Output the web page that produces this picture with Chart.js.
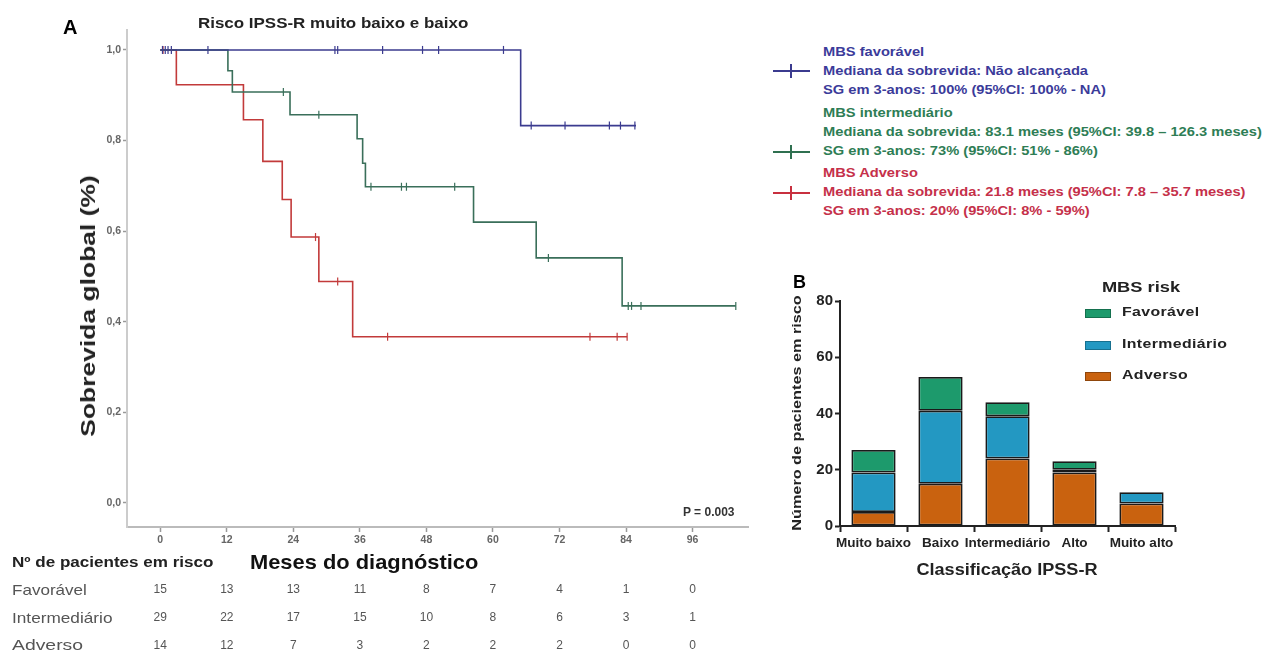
<!DOCTYPE html>
<html>
<head>
<meta charset="utf-8">
<script src="https://cdn.jsdelivr.net/npm/chart.js@4"></script>
<style>
  body { margin: 0; background: #fff; font-family: "Liberation Sans", Arial, sans-serif; }
  #wrap { position: relative; width: 1263px; height: 657px; overflow: hidden; }
  canvas { position: absolute; }
  .t { position: absolute; white-space: nowrap; }
  .left { transform-origin: left center; }
  .leg { transform-origin: left top; }
  .leg div { height: 19px; line-height: 19px; }
  .mk { position: absolute; width: 37px; height: 2px; }
  .mk:after { content: ""; position: absolute; left: 17px; top: -6px; width: 2px; height: 14px; background: inherit; }
</style>
</head>
<body>
<div id="wrap">
  <canvas id="km" width="760" height="657" style="left:0;top:0"></canvas>
  <canvas id="bars" width="420" height="300" style="left:780px;top:280px"></canvas>

  <div class="t" style="left:63px;top:16px;font:bold 20px 'Liberation Sans';">A</div>
  <div class="t left" data-w="270" style="left:198px;top:14px;font:bold 15px 'Liberation Sans';color:#222;">Risco IPSS-R muito baixo e baixo</div>
  <div class="t" data-w="262" data-mode="rot" style="left:88px;top:306px;font:bold 21px 'Liberation Sans';color:#222;">Sobrevida global (%)</div>
  <div class="t" style="left:683px;top:505px;font:bold 12px 'Liberation Sans';color:#333;">P = 0.003</div>
  <div class="t left" data-w="228" style="left:250px;top:550px;font:bold 21px 'Liberation Sans';color:#111;">Meses do diagnóstico</div>
  <div class="t left" data-w="201" style="left:12px;top:554px;font:bold 14.5px 'Liberation Sans';color:#222;">Nº de pacientes em risco</div>
  <div class="t left" data-w="75" style="left:12px;top:581px;font:15px 'Liberation Sans';color:#555;">Favorável</div>
  <div class="t left" data-w="101" style="left:12px;top:609px;font:15px 'Liberation Sans';color:#555;">Intermediário</div>
  <div class="t left" data-w="71" style="left:12px;top:636px;font:15px 'Liberation Sans';color:#555;">Adverso</div>

  <div class="mk" style="left:773px;top:70px;background:#3b3b8f;"></div>
  <div class="mk" style="left:773px;top:151px;background:#2f7050;"></div>
  <div class="mk" style="left:773px;top:192px;background:#c8303f;"></div>
  <div class="t leg" style="left:823px;top:43px;font:bold 12.5px 'Liberation Sans';color:#3b3b9a;">
    <div>MBS favorável</div><div>Mediana da sobrevida: Não alcançada</div><div>SG em 3-anos: 100% (95%CI: 100% - NA)</div>
  </div>
  <div class="t leg" id="leg2" style="left:823px;top:104px;font:bold 12.5px 'Liberation Sans';color:#2e7d55;">
    <div>MBS intermediário</div><div>Mediana da sobrevida: 83.1 meses (95%CI: 39.8 – 126.3 meses)</div><div>SG em 3-anos: 73% (95%CI: 51% - 86%)</div>
  </div>
  <div class="t leg" style="left:823px;top:164px;font:bold 12.5px 'Liberation Sans';color:#c5304a;">
    <div>MBS Adverso</div><div>Mediana da sobrevida: 21.8 meses (95%CI: 7.8 – 35.7 meses)</div><div>SG em 3-anos: 20% (95%CI: 8% - 59%)</div>
  </div>

  <div class="t" style="left:793px;top:272px;font:bold 18px 'Liberation Sans';">B</div>
  <div class="t" data-w="235" data-mode="rot" style="left:797px;top:413px;font:bold 12.5px 'Liberation Sans';color:#222;">Número de pacientes em risco</div>
  <div class="t" data-w="181" data-mode="center" style="left:1007px;top:570px;font:bold 16px 'Liberation Sans';color:#222;">Classificação IPSS-R</div>
  <div class="t" data-w="78" data-mode="center" style="left:1141px;top:286px;font:bold 15px 'Liberation Sans';color:#222;">MBS risk</div>
  <div class="t" style="left:1085px;top:309px;width:24px;height:7px;background:#1d9a6c;border:1px solid #14704e;"></div>
  <div class="t" style="left:1085px;top:341px;width:24px;height:7px;background:#2398c2;border:1px solid #17708f;"></div>
  <div class="t" style="left:1085px;top:372px;width:24px;height:7px;background:#c9620f;border:1px solid #8f460b;"></div>
  <div class="t left bl" style="left:1122px;top:304px;font:bold 13px 'Liberation Sans';letter-spacing:0.3px;color:#222;">Favorável</div>
  <div class="t left bl" id="blRef" style="left:1122px;top:336px;font:bold 13px 'Liberation Sans';letter-spacing:0.3px;color:#222;">Intermediário</div>
  <div class="t left bl" style="left:1122px;top:367px;font:bold 13px 'Liberation Sans';letter-spacing:0.3px;color:#222;">Adverso</div>
</div>

<script>
// --- Kaplan-Meier data (months, survival) ---
const monthTicks = [0, 12, 24, 36, 48, 60, 72, 84, 96];
const survTicks = [0, 0.2, 0.4, 0.6, 0.8, 1.0];

const favTimes = [0, 65, 85.8];
const favSurv = [1, 0.833, 0.833];
const favCensor = [0.4, 0.9, 1.4, 2, 8.6, 31.5, 32, 40.1, 47.3, 50.2, 61.9, 66.9, 73, 81, 83, 85.6];

const intTimes = [0, 12.2, 13, 23.4, 35.5, 36.5, 37, 56.5, 67.8, 83.3, 103.8];
const intSurv = [1, 0.954, 0.907, 0.857, 0.804, 0.75, 0.698, 0.62, 0.541, 0.435, 0.435];
const intCensor = [22.2, 28.6, 38, 43.5, 44.4, 53.1, 70, 84.4, 85, 86.7, 103.8];

const advTimes = [0, 2.9, 15, 18.5, 22, 23.6, 28.6, 34.7, 84.2];
const advSurv = [1, 0.923, 0.846, 0.754, 0.67, 0.587, 0.489, 0.367, 0.367];
const advCensor = [0.5, 28, 32, 41, 77.5, 82.4, 84.2];

// numbers at risk under each month tick
const favRisk = [15, 13, 13, 11, 8, 7, 4, 1, 0];
const intRisk = [29, 22, 17, 15, 10, 8, 6, 3, 1];
const advRisk = [14, 12, 7, 3, 2, 2, 2, 0, 0];

// --- stacked bar data ---
const ipssCats = ['Muito baixo', 'Baixo', 'Intermediário', 'Alto', 'Muito alto'];
const adversoN = [5, 15, 24, 19, 8];
const intermedN = [14, 26, 15, 1, 4];
const favoravelN = [8, 12, 5, 3, 0];

const FONT = "'Liberation Sans', Arial, sans-serif";
const BLUE = '#3b3b8f', GREEN = '#3a6f5a', RED = '#c23a3a';

// stretch free text to the widths seen in the figure
document.querySelectorAll('[data-w]').forEach(el => {
  const k = +el.dataset.w / el.offsetWidth;
  const mode = el.dataset.mode;
  if (mode === 'rot') el.style.transform = `translate(-50%,-50%) rotate(-90deg) scaleX(${k})`;
  else if (mode === 'center') el.style.transform = `translate(-50%,-50%) scaleX(${k})`;
  else el.style.transform = `scaleX(${k})`;
});
const legK = 439 / document.getElementById('leg2').offsetWidth;
document.querySelectorAll('.leg').forEach(el => { el.style.transform = `scaleX(${legK})`; });
const blK = 105 / document.getElementById('blRef').offsetWidth;
document.querySelectorAll('.bl').forEach(el => { el.style.transform = `scaleX(${blK})`; });

function curve(times, surv) {
  return times.map((t, i) => ({ x: t, y: surv[i] }));
}
function survAt(times, surv, t) {
  let s = surv[0];
  for (let i = 0; i < times.length; i++) if (times[i] <= t) s = surv[i];
  return s;
}
function censorPts(times, surv, cens) {
  return cens.map(t => ({ x: t, y: survAt(times, surv, t) }));
}
function lineSet(times, surv, color) {
  return { data: curve(times, surv), showLine: true, stepped: true, borderColor: color, borderWidth: 1.6, pointRadius: 0 };
}
function censorSet(times, surv, cens, color) {
  return { data: censorPts(times, surv, cens), showLine: false, pointStyle: 'line', rotation: 90, pointRadius: 4,
    borderColor: color, borderWidth: 1.2 };
}

const riskTable = {
  id: 'riskTable',
  afterDraw(chart) {
    const ctx = chart.ctx, xs = chart.scales.x;
    const rows = [[favRisk, 590], [intRisk, 618], [advRisk, 646]];
    ctx.save();
    ctx.font = '12px ' + FONT;
    ctx.fillStyle = '#555';
    ctx.textAlign = 'center';
    ctx.textBaseline = 'middle';
    rows.forEach(([vals, y]) => {
      vals.forEach((v, i) => ctx.fillText(String(v), xs.getPixelForValue(monthTicks[i]), y));
    });
    ctx.restore();
  }
};

new Chart(document.getElementById('km'), {
  type: 'scatter',
  data: {
    datasets: [
      lineSet(favTimes, favSurv, BLUE),
      lineSet(intTimes, intSurv, GREEN),
      lineSet(advTimes, advSurv, RED),
      censorSet(favTimes, favSurv, favCensor, BLUE),
      censorSet(intTimes, intSurv, intCensor, GREEN),
      censorSet(advTimes, advSurv, advCensor, RED)
    ]
  },
  options: {
    responsive: false,
    animation: false,
    layout: { padding: { top: 30, right: 12, left: 0, bottom: 0 } },
    plugins: { legend: { display: false }, tooltip: { enabled: false } },
    scales: {
      x: {
        type: 'linear', min: -6, max: 106,
        afterBuildTicks: a => { a.ticks = monthTicks.map(v => ({ value: v })); },
        afterFit: a => { a.height = 130; },
        grid: { drawOnChartArea: false, tickLength: 5, tickColor: '#999', tickWidth: 1.5 },
        border: { color: '#bbb', width: 2 },
        ticks: { font: { size: 10.5, family: FONT, weight: 'bold' }, color: '#666', padding: 2, callback: v => v }
      },
      y: {
        min: -0.053, max: 1.044,
        afterBuildTicks: a => { a.ticks = survTicks.map(v => ({ value: v })); },
        afterFit: a => { a.width = 127; },
        grid: { drawOnChartArea: false, tickLength: 4, tickColor: '#999', tickWidth: 1.5 },
        border: { color: '#ccc', width: 2 },
        ticks: { font: { size: 10.5, family: FONT, weight: 'bold' }, color: '#666', padding: 2,
          callback: v => v.toFixed(1).replace('.', ',') }
      }
    }
  },
  plugins: [riskTable]
});

const barStyle = { borderColor: '#1a1a1a', borderWidth: 1.8, borderSkipped: false,
  categoryPercentage: 0.66, barPercentage: 1 };

new Chart(document.getElementById('bars'), {
  type: 'bar',
  data: {
    labels: ipssCats,
    datasets: [
      Object.assign({ label: 'Adverso', data: adversoN, backgroundColor: '#c9620f' }, barStyle),
      Object.assign({ label: 'Intermediário', data: intermedN, backgroundColor: '#2398c2' }, barStyle),
      Object.assign({ label: 'Favorável', data: favoravelN, backgroundColor: '#1d9a6c' }, barStyle)
    ]
  },
  options: {
    responsive: false,
    animation: false,
    layout: { padding: { top: 21, right: 25, left: 0, bottom: 0 } },
    plugins: { legend: { display: false }, tooltip: { enabled: false } },
    scales: {
      x: {
        stacked: true,
        afterFit: a => { a.height = 54; },
        grid: { drawOnChartArea: false, tickLength: 6, tickColor: '#222', tickWidth: 2 },
        border: { color: '#222', width: 2 },
        ticks: { autoSkip: false, maxRotation: 0, font: { size: 13.5, family: FONT, weight: 'bold' }, color: '#222', padding: 3 }
      },
      y: {
        stacked: true, min: 0, max: 80,
        afterFit: a => { a.width = 60; },
        grid: { drawOnChartArea: false, tickLength: 5, tickColor: '#222', tickWidth: 2 },
        border: { color: '#222', width: 2 },
        ticks: { stepSize: 20, font: { size: 15, family: FONT, weight: 'bold' }, color: '#222', padding: 2 }
      }
    }
  }
});
</script>
</body>
</html>
